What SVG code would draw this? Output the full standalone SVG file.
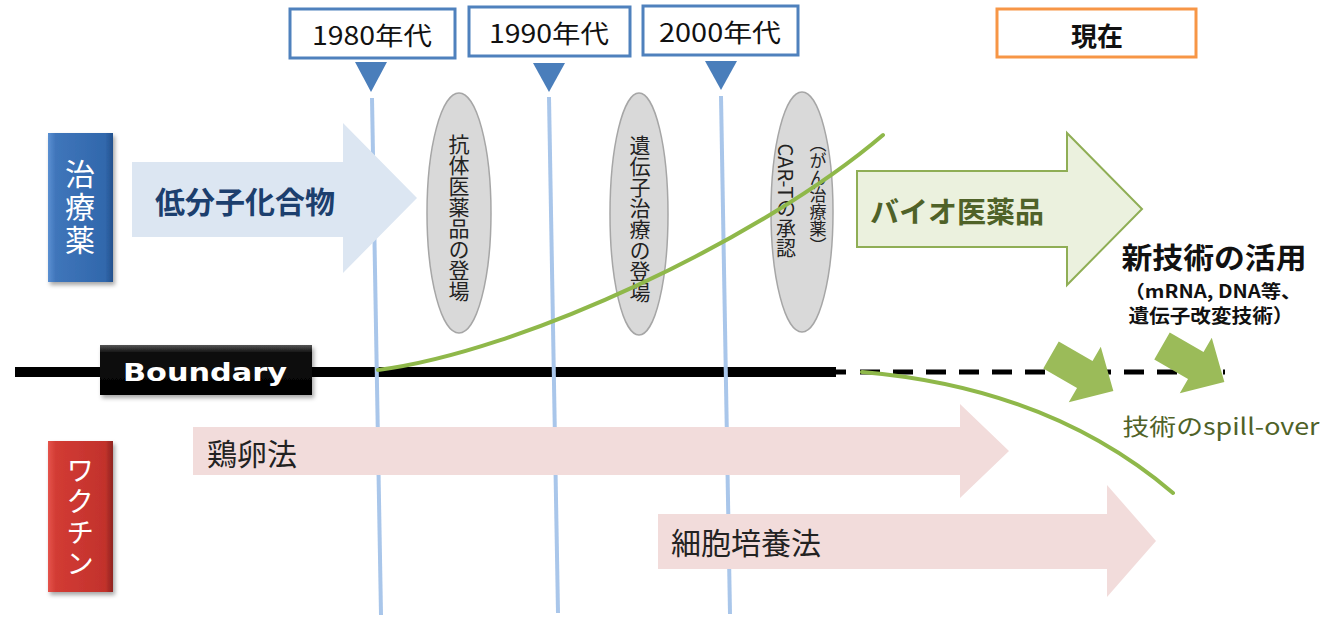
<svg xmlns="http://www.w3.org/2000/svg" width="1323" height="619" viewBox="0 0 1323 619">
<defs>
<style>
.jp{font-family:"Noto Sans CJK JP","Noto Sans",sans-serif;}
.yearbox{fill:#fff;stroke:#4f81bd;stroke-width:3;}
.year{font-size:25px;fill:#111;text-anchor:middle;dominant-baseline:central;}
.tri{fill:#4a7ebb;}
.vline{stroke:#a9c6ea;stroke-width:4;fill:none;}
.ell{fill:#d9d9d9;stroke:#a6a6a6;stroke-width:1.5;}
.vtext{writing-mode:vertical-rl;text-anchor:middle;fill:#222;}
.green{stroke:#8fb84a;stroke-width:4;fill:none;stroke-linecap:round;}
.pink{fill:#f2dcdb;}
.dark{fill:#222;font-size:30px;dominant-baseline:central;}
.side{fill:#fff;writing-mode:vertical-rl;text-anchor:middle;}
.spill{fill:#9bbb59;}
</style>
<linearGradient id="gBlue" x1="0" y1="0" x2="1" y2="0">
<stop offset="0" stop-color="#5b90d2"/><stop offset="0.12" stop-color="#3f75ba"/><stop offset="0.88" stop-color="#3168ac"/><stop offset="1" stop-color="#23508d"/>
</linearGradient>
<linearGradient id="gRed" x1="0" y1="0" x2="1" y2="0">
<stop offset="0" stop-color="#e5544c"/><stop offset="0.12" stop-color="#d23b34"/><stop offset="0.88" stop-color="#c2322c"/><stop offset="1" stop-color="#8f2420"/>
</linearGradient>
<linearGradient id="gBlack" x1="0" y1="0" x2="0" y2="1">
<stop offset="0" stop-color="#555"/><stop offset="0.15" stop-color="#111"/><stop offset="1" stop-color="#000"/>
</linearGradient>
<filter id="sh" x="-20%" y="-20%" width="150%" height="150%">
<feDropShadow dx="2" dy="3" stdDeviation="2" flood-color="#000" flood-opacity="0.35"/>
</filter>
</defs>
<rect width="1323" height="619" fill="#fff"/>

<g id="boundary">
<line x1="15" y1="372" x2="836" y2="372" stroke="#000" stroke-width="10"/>
<line x1="836" y1="372" x2="846" y2="372" stroke="#000" stroke-width="5"/>
<line x1="860" y1="372" x2="1225" y2="372" stroke="#000" stroke-width="5" stroke-dasharray="20 13"/>
<rect x="100" y="345" width="212" height="50" fill="url(#gBlack)" filter="url(#sh)"/>
<text x="205" y="372" font-family="'DejaVu Sans',sans-serif" font-weight="bold" font-size="25" fill="#fff" text-anchor="middle" dominant-baseline="central" textLength="164" lengthAdjust="spacingAndGlyphs">Boundary</text>
</g>

<g id="connectors">
<line class="vline" x1="372" y1="98" x2="381" y2="615"/>
<line class="vline" x1="549" y1="97" x2="558" y2="613"/>
<line class="vline" x1="721" y1="96" x2="730" y2="614"/>
</g>

<g id="year1980">
<rect class="yearbox" x="290" y="9" width="165" height="49"/>
<text class="jp year" x="372" y="34" textLength="120" lengthAdjust="spacingAndGlyphs">1980年代</text>
<polygon class="tri" points="355,62 387,62 371,92"/>
</g>
<g id="year1990">
<rect class="yearbox" x="469" y="7" width="161" height="49"/>
<text class="jp year" x="549" y="32" textLength="120" lengthAdjust="spacingAndGlyphs">1990年代</text>
<polygon class="tri" points="533,63 565,63 549,92"/>
</g>
<g id="year2000">
<rect class="yearbox" x="643" y="6" width="155" height="49"/>
<text class="jp year" x="720" y="31" textLength="122" lengthAdjust="spacingAndGlyphs">2000年代</text>
<polygon class="tri" points="705,61 737,61 721,90"/>
</g>
<g id="now">
<rect x="997" y="9" width="199" height="48" fill="#fff" stroke="#f79646" stroke-width="3"/>
<text class="jp" x="1097" y="34" font-size="26" font-weight="bold" fill="#111" text-anchor="middle" dominant-baseline="central">現在</text>
</g>

<g id="chiryoyaku">
<rect x="48" y="133" width="65" height="149" fill="url(#gBlue)" filter="url(#sh)"/>
<text class="jp side" x="80" y="208" font-size="30" letter-spacing="3">治療薬</text>
</g>
<g id="vaccine">
<rect x="48" y="441" width="65" height="151" fill="url(#gRed)" filter="url(#sh)"/>
<text class="jp side" x="80" y="518" font-size="28" letter-spacing="3">ワクチン</text>
</g>

<g id="small-molecule">
<polygon points="132,162 343,162 343,123 417,198 343,273 343,237 132,237" fill="#dce6f2"/>
<text class="jp" x="245" y="200" font-size="30" font-weight="bold" fill="#1c3f6e" text-anchor="middle" dominant-baseline="central">低分子化合物</text>
</g>

<g id="biologics">
<polygon points="857,171 1067,171 1067,133 1142,209 1067,285 1067,247 857,247" fill="#ebf1de" stroke="#8fae55" stroke-width="2"/>
<text class="jp" x="957" y="210" font-size="29" font-weight="bold" fill="#4f6228" text-anchor="middle" dominant-baseline="central">バイオ医薬品</text>
</g>

<g id="egg">
<polygon class="pink" points="193,427 960,427 960,404 1009,451 960,498 960,475 193,475"/>
<text class="jp dark" x="207" y="452">鶏卵法</text>
</g>
<g id="cell">
<polygon class="pink" points="658,514 1107,514 1107,485 1156,541 1107,597 1107,569 658,569"/>
<text class="jp dark" x="671" y="541">細胞培養法</text>
</g>

<g id="antibody">
<ellipse class="ell" cx="459" cy="213" rx="32" ry="120"/>
<text class="jp vtext" x="459" y="218" font-size="21">抗体医薬品の登場</text>
</g>
<g id="gene-therapy">
<ellipse class="ell" cx="639" cy="214" rx="29" ry="121"/>
<text class="jp vtext" x="640" y="219" font-size="21">遺伝子治療の登場</text>
</g>
<g id="car-t">
<ellipse class="ell" cx="802" cy="212" rx="31" ry="120"/>
<text class="jp vtext" x="818" y="195" font-size="17">（がん治療薬）</text>
<text class="jp vtext" x="786" y="201" font-size="20">CAR-Tの承認</text>
</g>

<g id="curves">
<path class="green" d="M378,370 C520,352 760,240 883,135"/>
<path class="green" d="M862,372 Q1050,388 1173,493"/>
</g>

<g id="spillover">
<polygon class="spill" transform="translate(1051,355) rotate(30)" points="0,-15.5 39,-15.5 39,-32 72,0 39,32 39,15.5 0,15.5"/>
<polygon class="spill" transform="translate(1162,346) rotate(30)" points="0,-15.5 39,-15.5 39,-32 72,0 39,32 39,15.5 0,15.5"/>
<text class="jp" x="1221" y="425" font-size="23" fill="#4f6228" text-anchor="middle" dominant-baseline="central" textLength="197" lengthAdjust="spacingAndGlyphs">技術のspill-over</text>
</g>

<g id="new-tech">
<text class="jp" x="1214" y="256" font-size="29" font-weight="bold" fill="#111" text-anchor="middle" dominant-baseline="central" textLength="185" lengthAdjust="spacingAndGlyphs">新技術の活用</text>
<text class="jp" x="1213" y="290" font-size="18" font-weight="bold" fill="#111" text-anchor="middle" dominant-baseline="central" textLength="177" lengthAdjust="spacingAndGlyphs">（mRNA, DNA等、</text>
<text class="jp" x="1211" y="314" font-size="19" font-weight="bold" fill="#111" text-anchor="middle" dominant-baseline="central" textLength="165" lengthAdjust="spacingAndGlyphs">遺伝子改変技術）</text>
</g>
</svg>
